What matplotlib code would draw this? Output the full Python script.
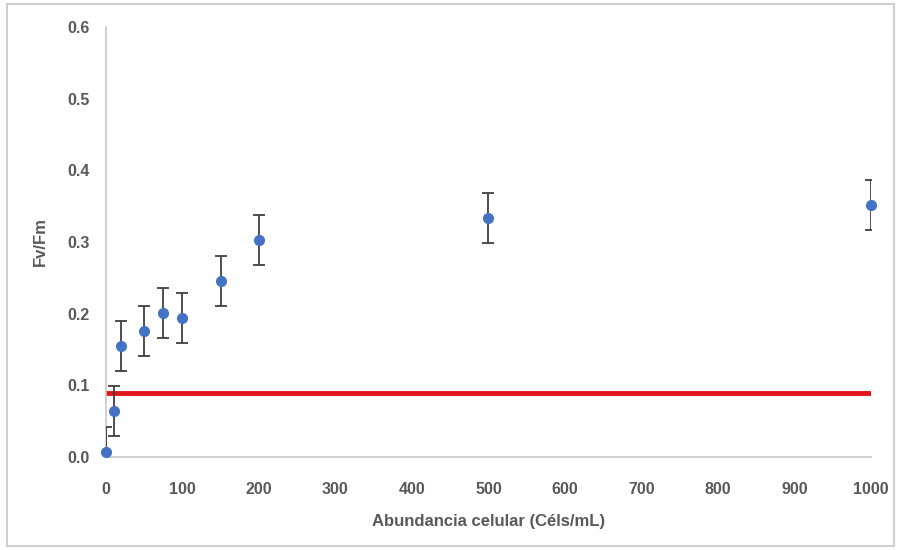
import matplotlib.pyplot as plt
from matplotlib.patches import Rectangle

plt.rcParams['font.family'] = ['Liberation Sans', 'DejaVu Sans']

# cell abundance vs Fv/Fm
abundance = [0, 10, 20, 50, 75, 100, 150, 200, 500, 1000]
fv_fm = [0.007, 0.064, 0.155, 0.176, 0.201, 0.194, 0.246, 0.303, 0.334, 0.352]
fv_fm_err = [0.035, 0.035, 0.035, 0.035, 0.035, 0.035, 0.035, 0.035, 0.035, 0.035]
threshold = 0.089
x_ticks = [0, 100, 200, 300, 400, 500, 600, 700, 800, 900, 1000]
y_ticks = [0.0, 0.1, 0.2, 0.3, 0.4, 0.5, 0.6]

fig = plt.figure(figsize=(9.01, 5.5), dpi=100)
ax = fig.add_axes([0.1176, 0.169, 0.849, 0.782])

ax.plot([abundance[0], abundance[-1]], [threshold, threshold], color='#e0161b', lw=3.5, zorder=2)
ax.errorbar(abundance, fv_fm, yerr=fv_fm_err, fmt='none',
            ecolor='#404040', elinewidth=1.3, capsize=4, capthick=1.3, zorder=3)
ax.plot(abundance, fv_fm, 'o', color='#4472c4', ms=7, zorder=4, clip_on=False)

ax.set_xlim(0, 1000)
ax.set_ylim(0, 0.6)
ax.set_xticks(x_ticks)
ax.set_yticks(y_ticks)
ax.set_yticklabels([f"{v:.1f}" for v in y_ticks])
for s in ['top', 'right']:
    ax.spines[s].set_visible(False)
for s in ['left', 'bottom']:
    ax.spines[s].set_color('#c8c8c8')
    ax.spines[s].set_linewidth(1.2)
ax.tick_params(length=0, labelsize=11.5, labelcolor='#595959')
ax.tick_params(axis='x', pad=18)
ax.tick_params(axis='y', pad=12)
for lbl in ax.get_xticklabels() + ax.get_yticklabels():
    lbl.set_fontweight('bold')

ax.set_xlabel('Abundancia celular (Céls/mL)', fontsize=12, fontweight='bold', color='#595959', labelpad=12)
ax.set_ylabel('Fv/Fm', fontsize=12, fontweight='bold', color='#595959', labelpad=14)

fig.patches.append(Rectangle((0.008, 0.008), 0.984, 0.984, transform=fig.transFigure,
                             fill=False, edgecolor='#d0d0d0', lw=1.5))

fig.savefig('out.png', dpi=100)
